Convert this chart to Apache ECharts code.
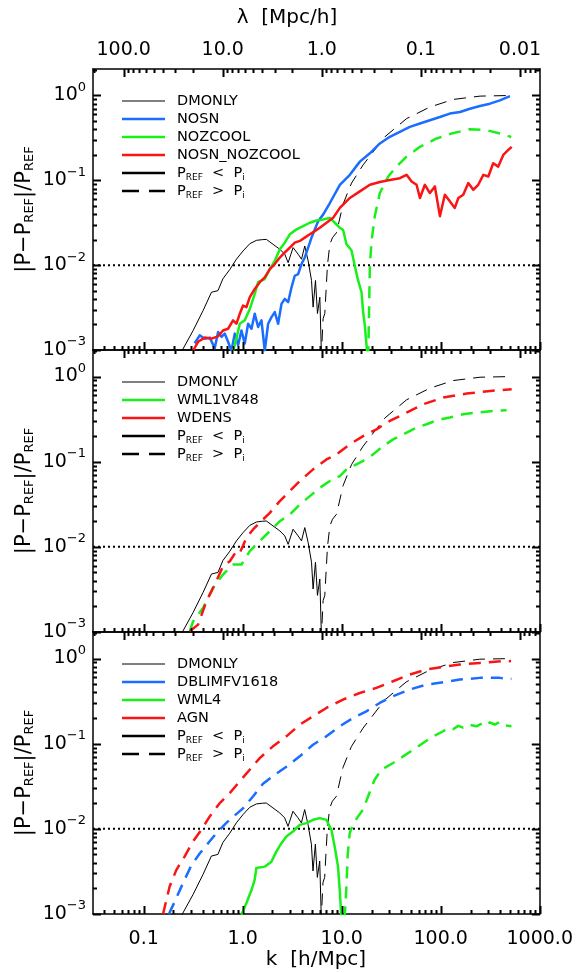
<!DOCTYPE html>
<html><head><meta charset="utf-8">
<script src="https://cdn.jsdelivr.net/npm/echarts@6/dist/echarts.min.js"></script>
<style>html,body{margin:0;padding:0;background:#fff}#c{width:576px;height:973px}</style>
</head><body><div id="c"></div>
<script>
// ---------------- data (k [h/Mpc], |P-Pref|/Pref) ----------------
const kTicks = [0.1, 1, 10, 100, 1000];
const lambdaTicks = [100, 10, 1, 0.1, 0.01];
const yTicks = [0.001, 0.01, 0.1, 1];
const refLevel = [0.01];

const dmonlySolid = [[0.240,0.00095],[0.316,0.0017],[0.398,0.00292],[0.483,0.00479],[0.562,0.00501],[0.631,0.00692],[0.741,0.0089],[0.863,0.01175],[1.007,0.0147],[1.178,0.0179],[1.374,0.0196],[1.585,0.0200],[1.734,0.0201],[2.023,0.0176],[2.366,0.0154],[2.655,0.01346],[2.871,0.0107],[3.221,0.0161],[3.622,0.01346],[3.917,0.01175],[4.227,0.01683],[4.571,0.01122],[4.943,0.0066],[5.129,0.0032],[5.42,0.0066],[5.675,0.00269],[5.998,0.00419],[6.237,0.0008]];
const dmonlyDashed = [[6.31,0.00126],[6.47,0.00234],[6.73,0.00269],[7.16,0.0100],[7.57,0.0176],[8.05,0.0211],[8.83,0.0241],[10.3,0.0525],[12.53,0.0927],[16.4,0.152],[27.2,0.326],[45.0,0.533],[77.4,0.73],[133,0.897],[248,0.982],[513,1.0]];

const nosn = [[0.327,0.0012],[0.368,0.00149],[0.413,0.00136],[0.465,0.0014],[0.521,0.00105],[0.564,0.00163],[0.61,0.00143],[0.658,0.00156],[0.711,0.00125],[0.769,0.00098],[0.83,0.00156],[0.897,0.00114],[0.97,0.0017],[1.047,0.00119],[1.132,0.00204],[1.225,0.00178],[1.321,0.00267],[1.429,0.00187],[1.545,0.00224],[1.667,0.00098],[1.803,0.00204],[1.95,0.00244],[2.104,0.0028],[2.275,0.00204],[2.46,0.0035],[2.655,0.004],[2.871,0.00366],[3.105,0.00548],[3.35,0.0075],[3.622,0.00785],[3.917,0.0103],[4.227,0.0123],[4.571,0.0161],[4.943,0.0211],[5.333,0.0264],[5.768,0.033],[6.47,0.0394],[7.57,0.054],[9.55,0.0885],[12.05,0.116],[15.2,0.166],[19.19,0.208],[24.2,0.272],[30.5,0.326],[38.5,0.372],[48.6,0.426],[61.4,0.467],[77.4,0.511],[97.7,0.557],[123,0.611],[156,0.638],[196,0.698],[248,0.75],[313,0.8],[394,0.875],[498,0.982]];
const nozcoolSolid = [[0.798,0.00098],[0.863,0.00136],[0.933,0.00204],[1.047,0.00224],[1.178,0.00305],[1.321,0.00458],[1.429,0.0063],[1.667,0.00686],[1.875,0.00897],[2.104,0.0112],[2.366,0.0154],[2.655,0.0184],[2.985,0.0231],[3.483,0.0264],[4.064,0.0288],[4.753,0.0316],[5.546,0.0336],[6.47,0.0345],[7.57,0.0361],[8.49,0.0316],[9.55,0.0276],[10.3,0.026],[11.14,0.0176],[12.5,0.0150],[13.52,0.0098],[14.62,0.00656],[15.81,0.00479],[16.4,0.0028],[17.06,0.00195],[17.74,0.00114],[18.2,0.0008]];
const nozcoolDashed = [[18.45,0.0008],[19.19,0.010],[19.95,0.0193],[21.5,0.0378],[24.2,0.0708],[29.4,0.111],[35.6,0.145],[45.0,0.19],[61.4,0.248],[90.4,0.311],[128,0.356],[196,0.40],[289,0.39],[394,0.356],[513,0.324]];
const nosnNozcool = [[0.315,0.00098],[0.354,0.00125],[0.413,0.0014],[0.483,0.00136],[0.564,0.00145],[0.632,0.0017],[0.711,0.00178],[0.798,0.00224],[0.863,0.00204],[0.933,0.00267],[1.007,0.00334],[1.089,0.0032],[1.178,0.00419],[1.321,0.00524],[1.486,0.0063],[1.667,0.00718],[1.875,0.00897],[2.104,0.0103],[2.366,0.0123],[2.655,0.0141],[2.985,0.0161],[3.35,0.0184],[3.767,0.0193],[4.227,0.0211],[4.753,0.0231],[5.333,0.0252],[5.998,0.0276],[7.0,0.0316],[8.17,0.0361],[9.55,0.0473],[12.05,0.0619],[15.2,0.0741],[19.19,0.0885],[24.2,0.0953],[30.5,0.101],[38.5,0.106],[45.0,0.116],[50.6,0.0968],[56.8,0.0885],[61.4,0.0619],[68.9,0.0885],[77.4,0.0708],[86.9,0.0847],[97.7,0.0378],[109.6,0.0676],[123,0.0565],[138,0.0473],[150,0.0619],[168,0.0676],[189,0.0927],[212,0.0774],[238,0.0885],[268,0.116],[301,0.111],[337,0.159],[379,0.145],[426,0.199],[479,0.228],[518,0.248]];

const wml1v848 = [[0.292,0.00102],[0.315,0.00133],[0.397,0.00191],[0.501,0.0033],[0.632,0.00473],[0.798,0.0062],[0.97,0.0062],[1.178,0.00889],[1.486,0.01167],[1.875,0.0153],[2.366,0.020],[2.985,0.024],[3.767,0.0315],[4.753,0.0394],[5.998,0.0494],[7.57,0.0593],[9.55,0.0678],[11.14,0.0813],[14.06,0.0931],[16.4,0.102],[20.7,0.122],[26.2,0.153],[33.0,0.183],[41.7,0.21],[56.8,0.251],[71.6,0.275],[90.4,0.306],[123,0.33],[168,0.361],[229,0.377],[338,0.394],[460,0.402]];
const wdens = [[0.292,0.00102],[0.354,0.00122],[0.43,0.0023],[0.521,0.0036],[0.632,0.00593],[0.74,0.00678],[0.863,0.00889],[0.933,0.00849],[1.089,0.01276],[1.271,0.016],[1.603,0.021],[1.875,0.0251],[2.366,0.0344],[2.985,0.0452],[3.767,0.0593],[5.129,0.0813],[7.0,0.1064],[8.83,0.122],[12.05,0.16],[16.4,0.20],[22.4,0.24],[30.5,0.301],[45.0,0.377],[66.4,0.473],[105.7,0.566],[182,0.631],[313,0.678],[518,0.71]];

const dblimfv1618 = [[0.18,0.001],[0.206,0.0014],[0.249,0.00229],[0.303,0.00372],[0.368,0.00513],[0.447,0.00676],[0.542,0.00889],[0.684,0.01175],[0.798,0.0138],[1.007,0.0174],[1.271,0.024],[1.603,0.0339],[2.023,0.0417],[2.761,0.0537],[3.767,0.071],[5.129,0.0973],[7.0,0.122],[9.55,0.16],[13.0,0.20],[17.74,0.24],[24.2,0.301],[33.0,0.361],[48.6,0.432],[71.6,0.494],[105.7,0.527],[156,0.566],[248,0.593],[394,0.593],[518,0.577]];
const wml4Solid = [[0.97,0.00098],[1.089,0.00134],[1.225,0.0019],[1.321,0.00251],[1.374,0.00347],[1.667,0.0036],[1.95,0.00412],[2.188,0.0054],[2.46,0.00678],[2.761,0.00813],[3.221,0.00931],[3.767,0.01114],[4.395,0.01167],[5.129,0.01276],[5.998,0.01337],[7.0,0.01276],[7.87,0.00973],[8.49,0.0062],[9.18,0.0036],[9.55,0.00191],[9.93,0.00089]];
const wml4Dashed = [[10.7,0.00089],[11.14,0.002],[11.5,0.005],[12.05,0.0089],[13.0,0.0112],[14.62,0.014],[16.4,0.0167],[18.45,0.024],[21.5,0.0377],[25.1,0.0494],[33.0,0.0593],[41.7,0.071],[52.6,0.0849],[66.4,0.102],[83.8,0.122],[105.7,0.14],[118,0.152],[133,0.148],[150,0.162],[168,0.155],[190,0.168],[229,0.160],[260,0.172],[290,0.163],[313,0.178],[350,0.168],[394,0.18],[440,0.165],[518,0.16]];
const agn = [[0.157,0.001],[0.183,0.0021],[0.214,0.0033],[0.259,0.00473],[0.315,0.0071],[0.382,0.00973],[0.465,0.014],[0.586,0.020],[0.74,0.0263],[0.933,0.0361],[1.178,0.0494],[1.486,0.0678],[2.023,0.0931],[2.761,0.122],[3.767,0.167],[5.129,0.21],[7.0,0.263],[10.3,0.33],[15.2,0.394],[22.4,0.452],[33.0,0.541],[48.6,0.649],[71.6,0.743],[105.7,0.798],[156,0.849],[248,0.889],[410,0.931],[513,0.933]];

const legend1 = ['DMONLY', 'NOSN', 'NOZCOOL', 'NOSN_NOZCOOL'];
const legend2 = ['DMONLY', 'WML1V848', 'WDENS'];
const legend3 = ['DMONLY', 'DBLIMFV1618', 'WML4', 'AGN'];

// ---------------- styling / layout ----------------
const FONT = 'DejaVu Sans';
const BLUE = '#1a6dff', GREEN = '#19f019', RED = '#fa1414', BLACK = '#000';
const TICK = 'rgb(0,0,0)';
const KMIN = 0.0308, KMAX = 1000, YMIN = 0.001, YMAX = 2.05;
const LMIN = 2 * Math.PI / KMAX, LMAX = 2 * Math.PI / KMIN;
const DASH = [12, 8];
const panelTops = [69, 350, 632], panelHeights = [281, 282, 282];
const LEFT = 93, RIGHT = 540;

function minors(lo, hi) {
  const out = [];
  for (let e = -4; e <= 4; e++) for (let m = 2; m <= 9; m++) {
    const v = +(m * Math.pow(10, e)).toPrecision(3);
    if (v > lo && v < hi) out.push(v);
  }
  return out;
}
const kMinor = minors(KMIN, KMAX), lMinor = minors(LMIN, LMAX), yMinor = minors(YMIN, YMAX);

const grids = [], xAxes = [], yAxes = [], series = [];
const lineAx = { show: true, onZero: false, lineStyle: { color: BLACK, width: 1.5 } };

function supLabel(v) {
  const e = Math.round(Math.log10(v));
  return '{b|10}{s|' + (e < 0 ? '\u2212' + (-e) : e) + '}';
}

for (let g = 0; g < 3; g++) {
  grids.push({ left: LEFT, width: RIGHT - LEFT, top: panelTops[g], height: panelHeights[g] });
  const base = { gridIndex: g, splitLine: { show: false }, axisTick: { show: false } };
  xAxes.push(Object.assign({}, base, { type: 'log', position: 'bottom', min: KMIN, max: KMAX, axisLine: lineAx,
    axisLabel: { show: g === 2, customValues: kTicks, formatter: v => Number(v).toFixed(1), color: BLACK, fontFamily: FONT, fontSize: 19, margin: 16 } }));
  xAxes.push(Object.assign({}, base, { type: 'log', position: 'top', inverse: true, min: LMIN, max: LMAX, axisLine: lineAx,
    axisLabel: { show: g === 0, customValues: lambdaTicks, formatter: v => (v >= 0.1 ? Number(v).toFixed(1) : Number(v).toFixed(2)), color: BLACK, fontFamily: FONT, fontSize: 19, margin: 9 } }));
  const richY = { b: { fontSize: 19, fontFamily: FONT, color: BLACK, lineHeight: 19 }, s: { fontSize: 13, fontFamily: FONT, color: BLACK, lineHeight: 13, padding: [0, 0, 16, 0] } };
  yAxes.push(Object.assign({}, base, { type: 'log', position: 'left', min: YMIN, max: YMAX, axisLine: lineAx,
    axisLabel: { show: true, customValues: yTicks, formatter: supLabel, rich: richY, margin: 7 } }));
  yAxes.push(Object.assign({}, base, { type: 'log', position: 'right', min: YMIN, max: YMAX, axisLine: lineAx, axisLabel: { show: false } }));
}

function addLine(g, data, color, width, type, z) {
  series.push({ type: 'line', xAxisIndex: g * 2, yAxisIndex: g * 2, data: data, showSymbol: false, symbol: 'none',
    lineStyle: { color: color, width: width, type: type, cap: 'butt', join: 'round' }, clip: true, z: z || 2 });
}
// tick marks via custom series (drawn through the library's own scales)
function tickLine(x1, y1, x2, y2) {
  return { type: 'line', shape: { x1: x1, y1: y1, x2: x2, y2: y2 }, style: { stroke: TICK, lineWidth: 1.6 } };
}
function renderXTick(params, api) {
  const cs = params.coordSys;
  const x = Math.round(api.coord([api.value(0), api.value(1)])[0]) + 0.5;
  const len = api.value(2), atTop = api.value(3) === 1;
  const y0 = atTop ? cs.y : cs.y + cs.height;
  return tickLine(x, y0, x, atTop ? y0 + len : y0 - len);
}
function renderYTick(params, api) {
  const cs = params.coordSys;
  const y = Math.round(api.coord([api.value(0), api.value(1)])[1]) + 0.5;
  const len = api.value(2);
  return { type: 'group', children: [tickLine(cs.x, y, cs.x + len, y), tickLine(cs.x + cs.width, y, cs.x + cs.width - len, y)] };
}
for (let g = 0; g < 3; g++) {
  addLine(g, [[KMIN, refLevel[0]], [KMAX, refLevel[0]]], BLACK, 2, [2, 3], 1);
  const common = { type: 'custom', clip: false, z: 10, encode: { x: 0, y: 1 } };
  series.push(Object.assign({}, common, { xAxisIndex: g * 2, yAxisIndex: g * 2, renderItem: renderXTick,
    data: kTicks.map(v => [v, 0.01, 8, 0]).concat(kMinor.map(v => [v, 0.01, 4, 0])) }));
  series.push(Object.assign({}, common, { xAxisIndex: g * 2 + 1, yAxisIndex: g * 2, renderItem: renderXTick,
    data: lambdaTicks.map(v => [v, 0.01, 8, 1]).concat(lMinor.map(v => [v, 0.01, 4, 1])) }));
  series.push(Object.assign({}, common, { xAxisIndex: g * 2, yAxisIndex: g * 2, renderItem: renderYTick,
    data: yTicks.map(v => [1, v, 8]).concat(yMinor.map(v => [1, v, 4])) }));
}
addLine(0, dmonlySolid, BLACK, 1, 'solid');
addLine(0, dmonlyDashed, BLACK, 1, DASH);
addLine(0, nosn, BLUE, 2.5, 'solid', 3);
addLine(0, nozcoolSolid, GREEN, 2.5, 'solid', 4);
addLine(0, nozcoolDashed, GREEN, 2.5, DASH, 4);
addLine(0, nosnNozcool, RED, 2.5, 'solid', 5);
addLine(1, dmonlySolid, BLACK, 1, 'solid');
addLine(1, dmonlyDashed, BLACK, 1, DASH);
addLine(1, wml1v848, GREEN, 2.5, DASH, 3);
addLine(1, wdens, RED, 2.5, DASH, 4);
addLine(2, dmonlySolid, BLACK, 1, 'solid');
addLine(2, dmonlyDashed, BLACK, 1, DASH);
addLine(2, dblimfv1618, BLUE, 2.5, DASH, 3);
addLine(2, wml4Solid, GREEN, 2.5, 'solid', 4);
addLine(2, wml4Dashed, GREEN, 2.5, DASH, 4);
addLine(2, agn, RED, 2.5, DASH, 5);

// ---------------- graphic: titles and legends ----------------
const graphics = [];
const subRich = { s: { fontSize: 9, fontFamily: FONT, color: BLACK, lineHeight: 9, padding: [9, 0, 0, 0] }, n: { fontSize: 14.5, fontFamily: FONT, color: BLACK, lineHeight: 15 } };
const pLess = '{n|P}{s|REF}{n|  <  P}{s|i}';
const pMore = '{n|P}{s|REF}{n|  >  P}{s|i}';
function legendBlock(g, names, colors) {
  const y0 = panelTops[g] + 32;
  const items = names.map((nm, i) => ({ label: '{n|' + nm + '}', color: colors[i], width: i === 0 ? 1 : 2.5, dash: null }));
  items.push({ label: pLess, color: BLACK, width: 2.5, dash: null });
  items.push({ label: pMore, color: BLACK, width: 2.5, dash: [17, 10] });
  items.forEach((it, i) => {
    const y = y0 + 18 * i;
    graphics.push({ type: 'line', silent: true, shape: { x1: 122, y1: y, x2: 165, y2: y },
      style: { stroke: it.color, lineWidth: it.width, lineDash: it.dash } });
    graphics.push({ type: 'text', silent: true, x: 177, y: y,
      style: { text: it.label, rich: subRich, fill: BLACK, fontSize: 14.5, fontFamily: FONT, align: 'left', verticalAlign: 'middle' } });
  });
}
legendBlock(0, legend1, [BLACK, BLUE, GREEN, RED]);
legendBlock(1, legend2, [BLACK, GREEN, RED]);
legendBlock(2, legend3, [BLACK, BLUE, GREEN, RED]);

const yTitleRich = { s: { fontSize: 13, fontFamily: FONT, color: BLACK, lineHeight: 13, padding: [10, 0, 0, 0] }, n: { fontSize: 21, fontFamily: FONT, color: BLACK, lineHeight: 21 } };
for (let g = 0; g < 3; g++) {
  graphics.push({ type: 'text', silent: true, x: 25, y: panelTops[g] + panelHeights[g] / 2, rotation: Math.PI / 2,
    style: { text: '{n||P\u2212P}{s|REF}{n||/P}{s|REF}', rich: yTitleRich, fill: BLACK, fontSize: 21, fontFamily: FONT, align: 'center', verticalAlign: 'middle' } });
}
graphics.push({ type: 'text', silent: true, x: 316, y: 960, style: { text: 'k  [h/Mpc]', fill: BLACK, fontSize: 20, fontFamily: FONT, align: 'center', verticalAlign: 'middle' } });
graphics.push({ type: 'text', silent: true, x: 287, y: 18, style: { text: '\u03bb  [Mpc/h]', fill: BLACK, fontSize: 20, fontFamily: FONT, align: 'center', verticalAlign: 'middle' } });

const chart = echarts.init(document.getElementById('c'));
chart.setOption({ animation: false, grid: grids, xAxis: xAxes, yAxis: yAxes, series: series, graphic: { elements: graphics } });

// backup tick marks placed with the chart's own coordinate conversion
const tickGraphics = [];
function gTick(x1, y1, x2, y2) {
  if (![x1, y1, x2, y2].every(isFinite)) return;
  tickGraphics.push({ type: 'line', silent: true, shape: { x1: x1, y1: y1, x2: x2, y2: y2 }, style: { stroke: TICK, lineWidth: 1.6 } });
}
try {
  for (let g = 0; g < 3; g++) {
    const top = panelTops[g], bot = panelTops[g] + panelHeights[g];
    const sIdx = g * 4;
    const px = (k, y) => chart.convertToPixel({ seriesIndex: sIdx }, [k, y]);
    const addX = (vals, len, atTop, lam) => vals.forEach(v => {
      const p = px(lam ? 2 * Math.PI / v : v, 0.01); if (!p) return;
      const x = Math.round(p[0]) + 0.5;
      if (atTop) gTick(x, top, x, top + len); else gTick(x, bot, x, bot - len);
    });
    addX(kTicks, 8, false); addX(kMinor, 4, false); addX(lambdaTicks, 8, true, true); addX(lMinor, 4, true, true);
    const addY = (vals, len) => vals.forEach(v => {
      const p = px(1, v); if (!p) return;
      const y = Math.round(p[1]) + 0.5;
      gTick(LEFT, y, LEFT + len, y); gTick(RIGHT, y, RIGHT - len, y);
    });
    addY(yTicks, 8); addY(yMinor, 4);
  }
  chart.setOption({ graphic: { elements: graphics.concat(tickGraphics) } });
} catch (e) { /* keep custom-series ticks */ }
</script>
</body></html>
